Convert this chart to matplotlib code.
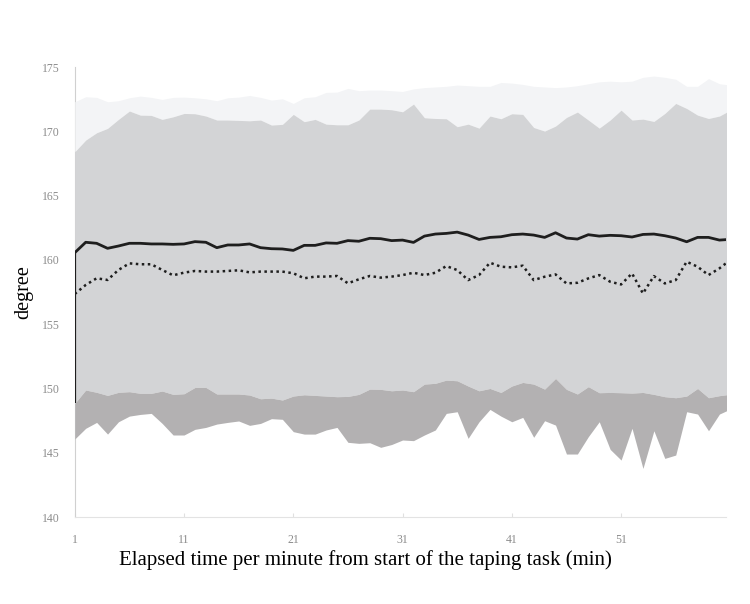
import numpy as np
import matplotlib.pyplot as plt

# minutes from start of the taping task
minutes = np.arange(1, 62)

# envelope bands (upper / lower limits), degree
light_top = [172.3, 172.69, 172.64, 172.3, 172.38, 172.61, 172.74, 172.64, 172.48, 172.64,
             172.66, 172.61, 172.53, 172.38, 172.61, 172.66, 172.79, 172.64, 172.43, 172.53,
             172.17, 172.61, 172.69, 173.03, 173.05, 173.34, 173.16, 173.21, 173.21, 173.16,
             173.1, 173.3, 173.4, 173.45, 173.5, 173.6, 173.55, 173.5, 173.5, 173.8,
             173.75, 173.65, 173.5, 173.45, 173.4, 173.45, 173.55, 173.7, 173.85, 173.9,
             173.85, 173.9, 174.2, 174.3, 174.2, 174.05, 173.5, 173.5, 174.1, 173.7, 173.6]
mid_top = [168.41, 169.32, 169.89, 170.23, 170.93, 171.58, 171.26, 171.24, 170.93, 171.13,
           171.39, 171.37, 171.19, 170.88, 170.88, 170.85, 170.82, 170.88, 170.49, 170.54,
           171.32, 170.75, 170.93, 170.56, 170.51, 170.51, 170.88, 171.73, 171.73, 171.68,
           171.52, 172.12, 171.06, 171.0, 170.98, 170.36, 170.56, 170.25, 171.19, 170.98,
           171.37, 171.32, 170.3, 170.02, 170.41, 171.08, 171.5, 170.88, 170.25, 170.88,
           171.65, 170.88, 170.95, 170.77, 171.39, 172.17, 171.78, 171.26, 171.0, 171.19, 171.65]
dark_top = [148.84, 149.88, 149.7, 149.46, 149.7, 149.75, 149.62, 149.62, 149.8, 149.54,
            149.59, 150.08, 150.08, 149.57, 149.57, 149.57, 149.49, 149.2, 149.25, 149.1,
            149.41, 149.51, 149.46, 149.41, 149.36, 149.38, 149.54, 149.95, 149.93, 149.82,
            149.88, 149.75, 150.34, 150.4, 150.65, 150.6, 150.19, 149.82, 150.0, 149.69,
            150.19, 150.47, 150.34, 149.95, 150.78, 149.93, 149.57, 150.14, 149.67, 149.69,
            149.67, 149.64, 149.69, 149.54, 149.36, 149.28, 149.41, 150.0, 149.28, 149.44, 149.55]
dark_bottom = [146.07, 146.9, 147.36, 146.45, 147.41, 147.85, 147.98, 148.06, 147.28, 146.38,
               146.38, 146.82, 146.97, 147.23, 147.36, 147.47, 147.13, 147.28, 147.65, 147.6,
               146.64, 146.45, 146.45, 146.77, 146.97, 145.81, 145.73, 145.78, 145.42, 145.64,
               145.99, 145.94, 146.38, 146.77, 148.06, 148.19, 146.12, 147.41, 148.37, 147.85,
               147.41, 147.75, 146.2, 147.49, 147.15, 144.9, 144.9, 146.25, 147.41, 145.26,
               144.43, 146.9, 143.78, 146.71, 144.56, 144.82, 148.19, 148.01, 146.71, 148.01, 148.4]

# mean curves
solid = [160.56, 161.37, 161.29, 160.9, 161.08, 161.29, 161.29, 161.24, 161.24, 161.21,
         161.24, 161.42, 161.37, 160.95, 161.16, 161.16, 161.24, 160.95, 160.87, 160.85,
         160.74, 161.13, 161.13, 161.32, 161.29, 161.5, 161.45, 161.68, 161.65, 161.5,
         161.54, 161.36, 161.85, 162.01, 162.06, 162.16, 161.93, 161.59, 161.75, 161.8,
         161.96, 162.01, 161.93, 161.75, 162.11, 161.7, 161.62, 161.96, 161.85, 161.91,
         161.88, 161.78, 161.98, 162.01, 161.88, 161.7, 161.41, 161.75, 161.75, 161.54, 161.6]
dotted = [157.35, 158.05, 158.57, 158.44, 159.22, 159.73, 159.66, 159.66, 159.22, 158.8,
          159.01, 159.14, 159.09, 159.09, 159.14, 159.19, 159.03, 159.09, 159.09, 159.09,
          158.96, 158.57, 158.7, 158.7, 158.75, 158.18, 158.49, 158.75, 158.62, 158.7,
          158.82, 159.0, 158.82, 159.0, 159.52, 159.21, 158.43, 158.82, 159.78, 159.47,
          159.42, 159.55, 158.43, 158.69, 158.87, 158.17, 158.22, 158.56, 158.82, 158.3,
          158.09, 158.95, 157.39, 158.74, 158.17, 158.43, 159.86, 159.47, 158.82, 159.34, 160.0]

x_ticks = [1, 11, 21, 31, 41, 51]
y_ticks = [140, 145, 150, 155, 160, 165, 170, 175]

serif = ['Liberation Serif', 'DejaVu Serif']

fig = plt.figure(figsize=(7.5, 6.04), dpi=100)
ax = fig.add_axes([0.0997, 0.144, 0.868, 0.745])

ax.fill_between(minutes, mid_top, light_top, color='#f3f4f6', lw=0, zorder=3)
ax.fill_between(minutes, dark_top, mid_top, color='#d3d4d6', lw=0, zorder=3)
ax.fill_between(minutes, dark_bottom, dark_top, color='#b3b1b2', lw=0, zorder=3)

ax.vlines(minutes[0], dark_top[0], solid[0], color='#1e1e1e', lw=1.6, zorder=4)
ax.plot(minutes, solid, color='#1e1e1e', lw=2.0, zorder=5)
ax.plot(minutes, dotted, color='#1e1e1e', lw=1.8, ls=(0, (1, 1.4)), zorder=5)

ax.set_xlim(1, 60.58)
ax.set_ylim(140, 175)
ax.set_xticks(x_ticks)
ax.set_yticks(y_ticks)

for s in ['top', 'right']:
    ax.spines[s].set_visible(False)
ax.spines['left'].set_color('#d0d0d0')
ax.spines['bottom'].set_color('#e3e3e3')
ax.spines['left'].set_linewidth(0.8)
ax.spines['bottom'].set_linewidth(0.8)

ax.tick_params(axis='x', direction='in', length=3, color='#e0e0e0', pad=12,
               labelsize=8.5, labelcolor='#8c8c8c')
ax.tick_params(axis='y', length=0, pad=11, labelsize=8.5, labelcolor='#8c8c8c')
for lab in ax.get_xticklabels() + ax.get_yticklabels():
    lab.set_family(serif)

ax.set_xlabel('Elapsed time per minute from start of the taping task (min)',
              family=serif, fontsize=15, x=0.447, labelpad=3)
ax.set_ylabel('degree', family=serif, fontsize=14.5, labelpad=6)

fig.savefig('out.png', dpi=100, facecolor='white')
